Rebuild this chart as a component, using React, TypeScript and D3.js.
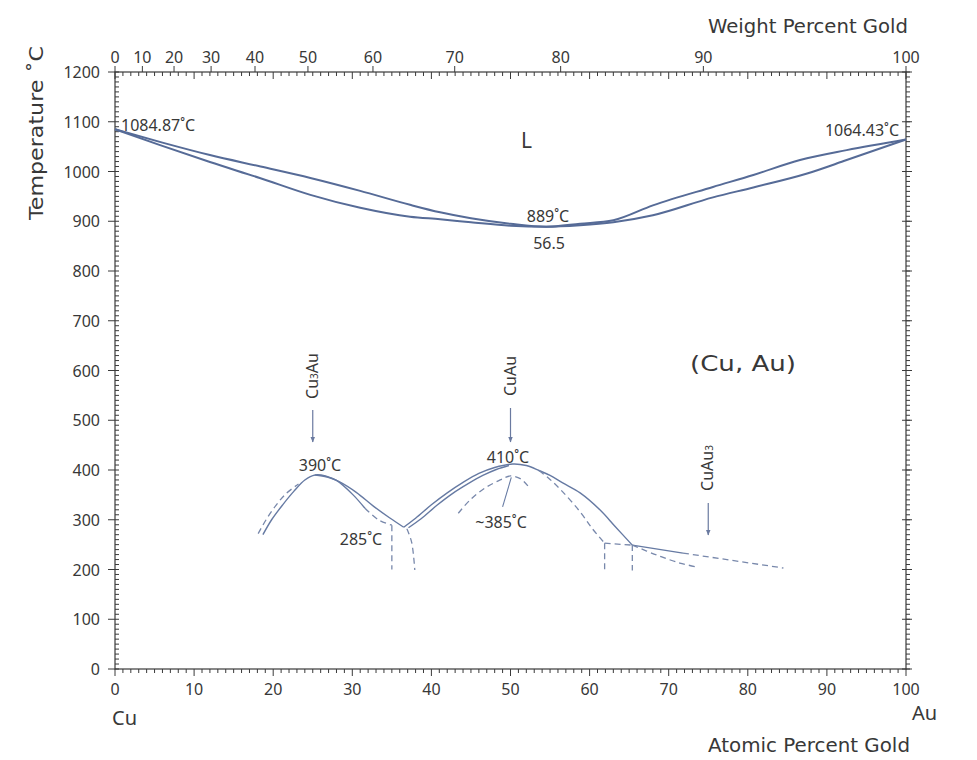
import React from 'react';
import * as d3 from 'd3';

// ---------- data ----------
const atomicTicks = [0, 10, 20, 30, 40, 50, 60, 70, 80, 90, 100];
const weightTicks = [0, 10, 20, 30, 40, 50, 60, 70, 80, 90, 100];
const tempTicks = [0, 100, 200, 300, 400, 500, 600, 700, 800, 900, 1000, 1100, 1200];

type P = [number, number];

// liquidus / solidus (atomic % Au, °C)
const liquidus: P[] = [
  [0, 1084.87], [6, 1058], [12, 1033], [18.4, 1010], [24.7, 987], [31, 961], [37.3, 933],
  [41.1, 918], [45, 906], [50, 895], [54.5, 889], [58.8, 895], [63, 902], [68, 932],
  [75.6, 969], [80.7, 993], [86.6, 1023], [92.5, 1043], [100, 1064.43],
];
const solidus: P[] = [
  [0, 1084.87], [5.7, 1053], [12, 1019], [18.3, 987], [24.7, 953], [31, 927], [37.3, 909],
  [41.1, 904], [45, 898], [50, 891], [54.5, 889], [58.8, 892], [63, 898], [68, 912],
  [75.6, 948], [80.7, 968], [87.5, 996], [92.5, 1023], [100, 1064.43],
];

// ordered phases
const cu3auOuter: P[] = [
  [18.7, 270], [19.8, 300], [21.2, 330], [22.6, 357], [24, 380], [25.3, 390], [26.6, 388],
  [28.4, 376], [30.5, 355], [32.7, 327], [34.7, 304], [36.5, 285],
];
const cu3auLeftDashed: P[] = [[18.1, 272], [19.1, 300], [20.3, 328], [21.6, 352], [23.2, 372]];
const cu3auInnerSolid: P[] = [[25.3, 390], [26.8, 386], [28.0, 379], [30.1, 350], [31.6, 323]];
const cu3auInnerDashed: P[] = [[31.6, 323], [33.3, 300], [35.0, 289]];
const vertDashA: P[] = [[35.0, 289], [35.0, 200]];
const vertDashB: P[] = [[36.9, 282], [37.5, 255], [37.9, 199]];

const cuauOuter: P[] = [
  [36.5, 285], [38, 303], [40, 330], [42, 354], [44, 375], [46, 393], [48, 405], [50.3, 412],
  [52, 409], [53.6, 399], [55, 389], [56.6, 374], [58.8, 354], [61.3, 320], [63.2, 287], [65.4, 249],
];
const cuauInnerLeft: P[] = [
  [37.1, 284], [38.7, 302], [40.7, 329], [42.7, 353], [44.7, 373], [46.5, 389], [48.2, 401], [49.8, 409],
];
const cuauInnerDashed: P[] = [[53.6, 399], [55, 381], [56.6, 356], [58.8, 316], [60.4, 281], [61.9, 253]];
const horizDash: P[] = [[61.9, 253], [65.4, 249]];
const vertDashC: P[] = [[61.9, 253], [61.9, 200]];
const vertDashD: P[] = [[65.4, 249], [65.4, 198]];
const cuau3Solid: P[] = [[65.4, 249], [71.8, 233]];
const cuau3Dashed: P[] = [[71.8, 233], [84.5, 203]];
const lowerDashed: P[] = [[65.4, 249], [68.5, 229], [71.4, 213], [73.6, 205]];
const innerDome: P[] = [[43.4, 313], [44.9, 340], [46.8, 364], [48.7, 380], [50, 388], [51.3, 382], [52.3, 366]];
const leader: P[] = [[50.1, 385], [49.0, 326]];

// labels
const phaseArrows = [
  { at: 25, name: 'Cu', sub: '3', rest: 'Au', textMid: 376, y0: 410, y1: 442 },
  { at: 50, name: 'CuAu', sub: '', rest: '', textMid: 376, y0: 408, y1: 442 },
  { at: 75, name: 'CuAu', sub: '3', rest: '', textMid: 468, y0: 503, y1: 535 },
];

// ---------- layout ----------
const W = 977;
const H = 760;
const X0 = 115, X1 = 906, Y0 = 669, Y1 = 72;

const MAu = 196.97, MCu = 63.546;
const wtToAt = (w: number) => {
  if (w <= 0) return 0;
  if (w >= 100) return 100;
  const a = w / MAu, c = (100 - w) / MCu;
  return (a / (a + c)) * 100;
};

export default function App() {
  const x = d3.scaleLinear().domain([0, 100]).range([X0, X1]);
  const y = d3.scaleLinear().domain([0, 1200]).range([Y0, Y1]);

  const smooth = d3.line<P>().x(d => x(d[0])).y(d => y(d[1])).curve(d3.curveCatmullRom.alpha(0.5));
  const mono = d3.line<P>().x(d => x(d[0])).y(d => y(d[1])).curve(d3.curveMonotoneX);
  const straight = d3.line<P>().x(d => x(d[0])).y(d => y(d[1]));

  const lineColor = '#566b97';
  const thinColor = '#667aa3';
  const dashColor = '#7888ab';
  const textColor = '#383838';
  const axisColor = '#3a3a3a';
  const font = '"Noto Sans", "DejaVu Sans", sans-serif';
  const titleFont = '"DejaVu Sans", sans-serif';

  const minorAt = d3.range(0, 101, 1);
  const minorT = d3.range(0, 1201, 10);

  return (
    <svg width={W} height={H} style={{ position: 'absolute', left: 0, top: 0, background: '#fff' }}
      fontFamily={font}>
      <defs>
        <marker id="arr" viewBox="0 0 10 10" refX="9" refY="5" markerWidth="6" markerHeight="6"
          orient="auto" markerUnits="userSpaceOnUse">
          <path d="M0,1 L10,5 L0,9 Z" fill="#6a7aa0" />
        </marker>
      </defs>
      <rect x={0} y={0} width={W} height={H} fill="#fff" />

      {/* frame */}
      <rect x={X0} y={Y1} width={X1 - X0} height={Y0 - Y1} fill="none" stroke={axisColor} strokeWidth={1.2} />

      {/* bottom axis ticks */}
      {minorAt.map(v => (
        <line key={'bm' + v} x1={x(v)} x2={x(v)} y1={Y0} y2={Y0 + (v % 10 === 0 ? 7 : 4)}
          stroke={axisColor} strokeWidth={1} />
      ))}
      {atomicTicks.map(v => (
        <text key={'bl' + v} x={x(v)} y={695} textAnchor="middle" fontSize={16} fill={textColor}>{v}</text>
      ))}

      {/* top axis ticks (atomic, inside) */}
      {minorAt.map(v => (
        <line key={'tm' + v} x1={x(v)} x2={x(v)} y1={Y1} y2={Y1 + (v % 10 === 0 ? 7 : 4)}
          stroke={axisColor} strokeWidth={1} />
      ))}
      {/* top weight ticks */}
      {weightTicks.map(v => (
        <g key={'wt' + v}>
          <line x1={x(wtToAt(v))} x2={x(wtToAt(v))} y1={Y1 - 6} y2={Y1} stroke={axisColor} strokeWidth={1} />
          <text x={x(wtToAt(v))} y={63} textAnchor="middle" fontSize={16} fill={textColor}>{v}</text>
        </g>
      ))}

      {/* left axis */}
      {minorT.map(v => (
        <line key={'lm' + v} x1={X0} x2={X0 + 4} y1={y(v)} y2={y(v)} stroke={axisColor} strokeWidth={1} />
      ))}
      {tempTicks.map(v => (
        <g key={'lt' + v}>
          <line x1={X0 - 7} x2={X0} y1={y(v)} y2={y(v)} stroke={axisColor} strokeWidth={1} />
          <text x={100} y={y(v) + 6} textAnchor="end" fontSize={16} fill={textColor}>{v}</text>
        </g>
      ))}

      {/* right axis */}
      {minorT.map(v => (
        <line key={'rm' + v} x1={X1} x2={X1 + 4} y1={y(v)} y2={y(v)} stroke={axisColor} strokeWidth={1} />
      ))}
      {tempTicks.map(v => (
        <line key={'rt' + v} x1={X1 - 4} x2={X1 + 6} y1={y(v)} y2={y(v)} stroke={axisColor} strokeWidth={1} />
      ))}

      {/* axis titles */}
      <text x={908} y={33} textAnchor="end" fontSize={19} fill={textColor} fontFamily={titleFont}
        textLength={200} lengthAdjust="spacingAndGlyphs">Weight Percent Gold</text>
      <text x={910} y={752} textAnchor="end" fontSize={19} fill={textColor} fontFamily={titleFont}
        textLength={202} lengthAdjust="spacingAndGlyphs">Atomic Percent Gold</text>
      <text x={112} y={725} fontSize={20} fill={textColor}>Cu</text>
      <text x={912} y={720} fontSize={20} fill={textColor}>Au</text>
      <text transform="translate(43,133) rotate(-90)" textAnchor="middle" fontSize={19} fill={textColor}
        fontFamily={titleFont} textLength={174} lengthAdjust="spacingAndGlyphs">Temperature ˚C</text>

      {/* liquidus / solidus */}
      <path d={mono(liquidus) || ''} fill="none" stroke={lineColor} strokeWidth={2} />
      <path d={mono(solidus) || ''} fill="none" stroke={lineColor} strokeWidth={2} />

      {/* ordered phases: solid */}
      {[cu3auOuter, cu3auInnerSolid, cuauOuter, cuauInnerLeft].map((d, i) => (
        <path key={'s' + i} d={smooth(d) || ''} fill="none" stroke={thinColor} strokeWidth={1.4} />
      ))}
      <path d={straight(cuau3Solid) || ''} fill="none" stroke={thinColor} strokeWidth={1.3} />
      <path d={straight(leader) || ''} fill="none" stroke={thinColor} strokeWidth={1.1} />

      {/* dashed */}
      {[cu3auLeftDashed, cu3auInnerDashed, vertDashB, cuauInnerDashed, lowerDashed, innerDome].map((d, i) => (
        <path key={'d' + i} d={smooth(d) || ''} fill="none" stroke={dashColor} strokeWidth={1.3}
          strokeDasharray="6,4" />
      ))}
      {[vertDashA, horizDash, vertDashC, vertDashD, cuau3Dashed].map((d, i) => (
        <path key={'ds' + i} d={straight(d) || ''} fill="none" stroke={dashColor} strokeWidth={1.3}
          strokeDasharray="6,4" />
      ))}

      {/* phase arrows */}
      {phaseArrows.map((p, i) => (
        <g key={'pa' + i}>
          <line x1={x(p.at)} x2={x(p.at)} y1={p.y0} y2={p.y1} stroke="#6a7aa0" strokeWidth={1.2}
            markerEnd="url(#arr)" />
          <text transform={`translate(${x(p.at) + 5},${p.textMid}) rotate(-90)`} textAnchor="middle"
            fontSize={16} fill={textColor}>
            {p.name}
            {p.sub ? <tspan fontSize={10}>{p.sub}</tspan> : null}
            {p.rest ? <tspan>{p.rest}</tspan> : null}
          </text>
        </g>
      ))}

      {/* annotations */}
      <text x={121} y={131} fontSize={16} fill={textColor}>1084.87˚C</text>
      <text x={899} y={136} textAnchor="end" fontSize={16} fill={textColor}>1064.43˚C</text>
      <text x={521} y={148} fontSize={21} fill={textColor}>L</text>
      <text x={548} y={222} textAnchor="middle" fontSize={16} fill={textColor}>889˚C</text>
      <text x={549} y={249} textAnchor="middle" fontSize={16} fill={textColor}>56.5</text>
      <text x={743} y={371} textAnchor="middle" fontSize={21} fill={textColor} fontFamily={titleFont}
        textLength={106} lengthAdjust="spacingAndGlyphs">(Cu, Au)</text>
      <text x={320} y={471} textAnchor="middle" fontSize={16} fill={textColor}>390˚C</text>
      <text x={508} y={463} textAnchor="middle" fontSize={16} fill={textColor}>410˚C</text>
      <text x={361} y={545} textAnchor="middle" fontSize={16} fill={textColor}>285˚C</text>
      <text x={501} y={528} textAnchor="middle" fontSize={16} fill={textColor}>~385˚C</text>
    </svg>
  );
}
